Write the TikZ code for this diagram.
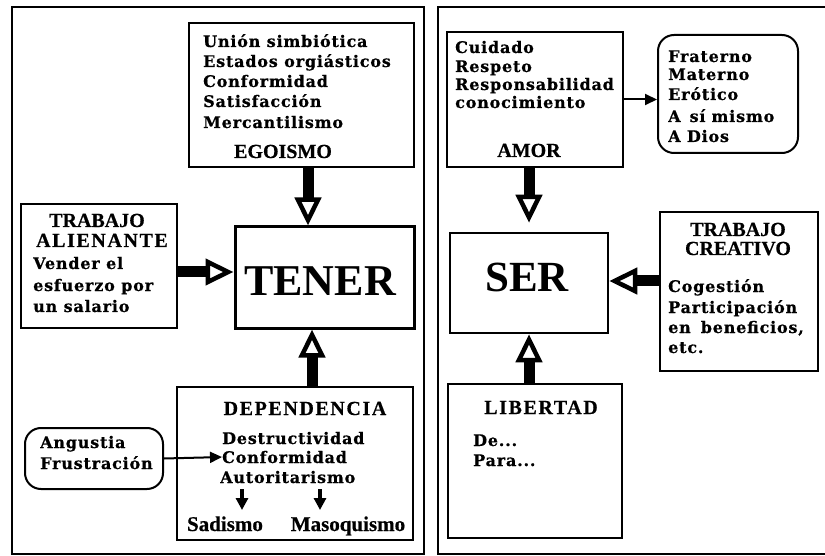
\documentclass[tikz,border=0pt]{standalone}
\usepackage{fontspec}
\usetikzlibrary{arrows.meta}
\newfontfamily\bodyf{DejaVu Serif}[LetterSpace=5, BoldFeatures={FakeBold=0.6}]
\newfontfamily\titf{Liberation Serif}[BoldFeatures={FakeBold=0.5}]
\newfontfamily\titls{Liberation Serif}[LetterSpace=8, BoldFeatures={FakeBold=0.5}]
\newfontfamily\hugef{Liberation Serif}
\begin{document}
\begin{tikzpicture}[x=1pt,y=-1pt,
  panel/.style={line width=2pt},
  box/.style={draw, line width=2pt, inner sep=0pt},
  bigbox/.style={draw, line width=3pt, inner sep=0pt},
  rbox/.style={draw, line width=2pt, rounded corners=16pt, inner sep=0pt},
  body/.style={font=\bodyf\bfseries\fontsize{16}{18}\selectfont, anchor=base west, inner sep=0pt},
  ttl/.style={font=\titf\bfseries\fontsize{20}{24}\selectfont, anchor=base, inner sep=0pt},
  ttls/.style={font=\titls\bfseries\fontsize{20}{24}\selectfont, anchor=base, inner sep=0pt},
  huge/.style={font=\hugef\bfseries\fontsize{44}{48}\selectfont, anchor=base, inner sep=0pt},
  bigarrow/.style={line width=11pt, -{Triangle[length=28pt, width=26pt, line width=4.5pt, fill=white]}},
  thinarrow/.style={line width=2pt, -{Triangle[length=12pt, width=11pt]}},
  smallarrow/.style={line width=3.5pt, -{Triangle[length=12pt, width=12pt]}}
]
\useasboundingbox (0,0) rectangle (825,556);
% panels
\draw[panel] (12,7) rectangle (424,554);
\draw[panel] (830,7) -- (438,7) -- (438,554) -- (830,554);

% ---------- left panel ----------
\node[box, minimum width=225pt, minimum height=144pt] (ego) at (301.5,95) {};
\node[bigbox, minimum width=179pt, minimum height=101pt] (ten) at (324.5,277.5) {};
\node[box, minimum width=156pt, minimum height=124pt] (ali) at (99,266) {};
\node[box, minimum width=236pt, minimum height=153pt] (dep) at (295,463.5) {};
\node[rbox, minimum width=138pt, minimum height=61pt] (ang) at (94,458.5) {};

\node[body] (e1) at (203,47) {Unión simbiótica};
\node[body] (e2) at (203,67) {Estados orgiásticos};
\node[body] (e3) at (203,87) {Conformidad};
\node[body] (e4) at (203,107) {Satisfacción};
\node[body] (e5) at (203,128) {Mercantilismo};
\node[ttl] (egot) at (283,158) {EGOISMO};

\node[ttl] (a1) at (97,227) {TRABAJO};
\node[ttls] (a2) at (102,247) {ALIENANTE};
\node[body] (a3) at (33,269) {Vender el};
\node[body] (a4) at (33,291) {esfuerzo por};
\node[body] (a5) at (33,312) {un salario};

\node[huge] (tent) at (320,295) {TENER};

\node[ttls] (dept) at (305,415) {DEPENDENCIA};
\node[body] (d1) at (222,444) {Destructividad};
\node[body] (d2) at (222,463) {Conformidad};
\node[body] (d3) at (220,483) {Autoritarismo};
\node[ttl, font=\titf\bfseries\fontsize{21}{24}\selectfont] (sad) at (225,531) {Sadismo};
\node[ttl, font=\titf\bfseries\fontsize{21}{24}\selectfont] (mas) at (348,531) {Masoquismo};
\coordinate (s1a) at (242,489); \coordinate (s1b) at (242,510);
\coordinate (s2a) at (320,489); \coordinate (s2b) at (320,510);

\node[body] (g1) at (40,448) {Angustia};
\node[body] (g2) at (40,469) {Frustración};

\draw[bigarrow] ([xshift=6.5pt]ego.south) -- ([xshift=6.5pt]ego.south |- ten.north);
\draw[bigarrow] ([xshift=17pt]dep.north) -- ([xshift=17pt]dep.north |- ten.south);
\draw[bigarrow] ([yshift=-6pt]ali.east) -- ([yshift=-6pt]ali.east -| ten.west);
\draw[thinarrow] (ang.east) -- (d2.west);
\draw[smallarrow] (s1a) -- (s1b);
\draw[smallarrow] (s2a) -- (s2b);

% ---------- right panel ----------
\node[box, minimum width=176pt, minimum height=135pt] (amor) at (535,99.5) {};
\node[rbox, minimum width=140pt, minimum height=118pt] (frat) at (728,94) {};
\node[bigbox, line width=2.5pt, minimum width=158pt, minimum height=100pt] (ser) at (529,283) {};
\node[box, minimum width=158pt, minimum height=159pt] (crea) at (739,291.5) {};
\node[box, minimum width=174pt, minimum height=154pt] (lib) at (535,461) {};

\node[body] (m1) at (455,53) {Cuidado};
\node[body] (m2) at (455,72) {Respeto};
\node[body] (m3) at (455,90) {Responsabilidad};
\node[body] (m4) at (455,108) {conocimiento};
\node[ttl] (amort) at (529,157) {AMOR};

\node[body] (f1) at (668,62) {Fraterno};
\node[body] (f2) at (668,80) {Materno};
\node[body] (f3) at (668,100) {Erótico};
\node[body] (f4) at (668,122) {A\hspace{9pt}sí\hspace{6pt}mismo};
\node[body] (f5) at (668,142) {A Dios};

\node[huge, font=\hugef\bfseries\fontsize{43}{48}\selectfont] (sert) at (527,291) {SER};

\node[ttl] (c1) at (738,236) {TRABAJO};
\node[ttl] (c2) at (738,255) {CREATIVO};
\node[body] (c3) at (668,292) {Cogestión};
\node[body] (c4) at (668,313) {Participación};
\node[body] (c5) at (668,333) {en\hspace{10pt}beneficios,};
\node[body] (c6) at (668,353) {etc.};

\node[ttls] (libt) at (541,414) {LIBERTAD};
\node[body] (l1) at (473,446) {De...};
\node[body] (l2) at (473,466) {Para...};

\draw[thinarrow] (amor.east) -- (amor.east -| frat.west);
\draw[bigarrow, shorten >=9pt] ([xshift=-6pt]amor.south) -- ([xshift=-6pt]amor.south |- ser.north);
\draw[bigarrow] ([xshift=-6pt]lib.north) -- ([xshift=-6pt]lib.north |- ser.south);
\draw[bigarrow] ([yshift=10.5pt]crea.west) -- ([yshift=10.5pt]crea.west -| ser.east);
\end{tikzpicture}
\end{document}
